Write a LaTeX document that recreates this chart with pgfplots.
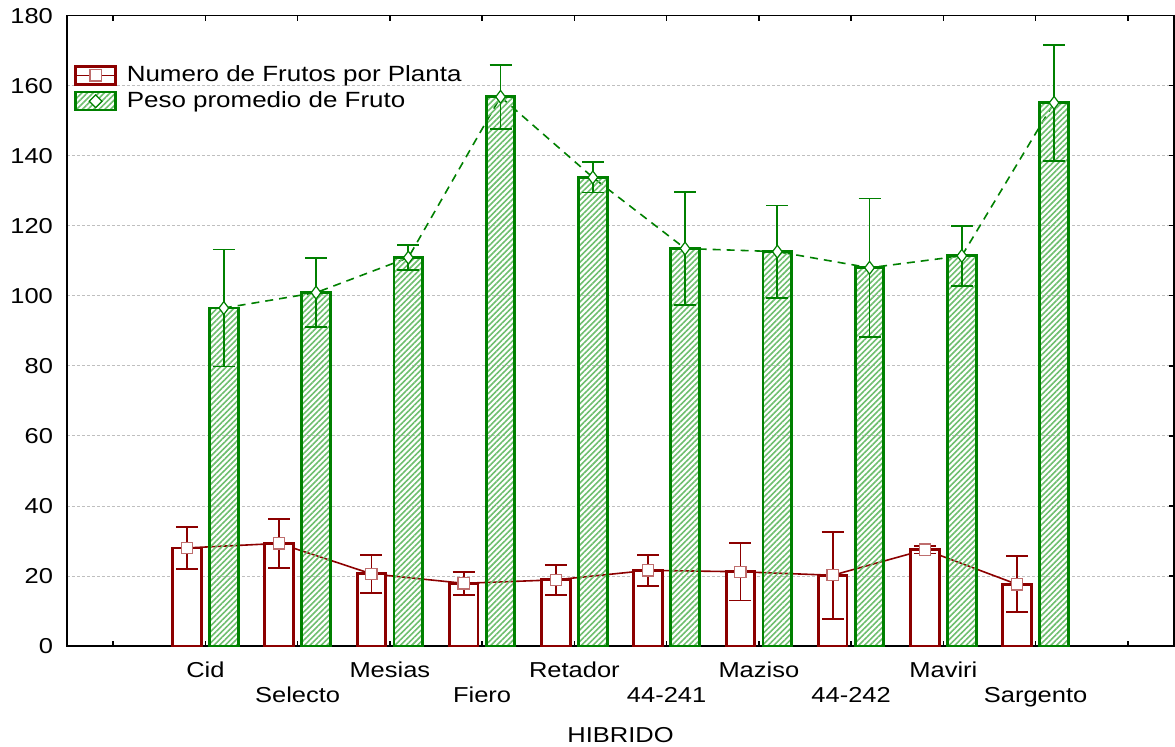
\documentclass[border=0pt]{standalone}
\usepackage{fontspec}
\setmainfont[FakeStretch=1.18]{Liberation Sans}
\usepackage{pgfplots}
\usepackage{pgfplotstable}
\pgfplotsset{compat=1.18}
\usetikzlibrary{patterns.meta}

\definecolor{darkred}{RGB}{140,0,0}
\definecolor{markred}{RGB}{190,110,110}
\definecolor{dkgreen}{RGB}{0,128,0}
\definecolor{hatchgreen}{RGB}{110,190,110}

% x: hibrido index, n: frutos por planta, p: peso promedio
\pgfplotstableread{
x n    ne   p     pe
1 28.0 6.0  96.5  16.7
2 29.3 7.0  100.9 9.8
3 20.6 5.4  110.9 3.5
4 17.9 3.3  156.8 9.1
5 18.9 4.3  133.8 4.3
6 21.6 4.4  113.5 16.1
7 21.2 8.2  112.6 13.2
8 20.2 12.4 108.0 19.8
9 27.5 1.1  111.4 8.6
10 17.6 8.0 155.1 16.6
}\datos

\begin{document}
\begin{tikzpicture}
\begin{axis}[
  name=ax,
  scale only axis,
  width=553.5pt, height=315.2pt,
  xmin=-0.5, xmax=11.5,
  ymin=0, ymax=180,
  xtick={0,...,11},
  xticklabels={,Cid,\raisebox{-12.5pt}{Selecto},Mesias,\raisebox{-12.5pt}{Fiero},Retador,\raisebox{-12.5pt}{44-241},Maziso,\raisebox{-12.5pt}{44-242},Maviri,\raisebox{-12.5pt}{Sargento},},
  ytick={0,20,...,180},
  ytick pos=right, yticklabel pos=left,
  tick align=inside,
  major tick length=2.5pt,
  tick style={black, line width=0.7pt},
  axis line style={black, line width=0.8pt},
  ymajorgrids,
  grid style={gray!50, line width=0.4pt, dash pattern=on 1.5pt off 1pt},
  font=\fontsize{10.8}{12.8}\selectfont,
  /pgf/number format/assume math mode=true,
  yticklabel style={xshift=-3.5pt},
  xticklabel style={text height=7.7pt, text depth=2pt, yshift=-4.5pt},
  xlabel={HIBRIDO},
  xlabel style={yshift=-16pt},
  legend cell align=left,
  legend style={at={(axis description cs:0,1)}, anchor=north west, xshift=0.5pt, yshift=-21pt,
    draw=none, fill=none, font=\fontsize{11}{13}\selectfont, row sep=-0.6pt,
    /tikz/every odd column/.append style={column sep=3pt}},
]
% connecting lines
\addplot[darkred, line width=0.8pt, forget plot] table[x expr=\thisrow{x}-0.2, y=n] {\datos};
\addplot[dkgreen, line width=0.8pt, dash pattern=on 4pt off 3pt, forget plot] table[x expr=\thisrow{x}+0.2, y=p] {\datos};
% bars
\addplot[ybar, bar width=0.31, bar shift=0pt, draw=darkred, fill=white, line width=1.4pt, forget plot]
  table[x expr=\thisrow{x}-0.2, y=n] {\datos};
\addplot[ybar, bar width=0.31, bar shift=0pt, draw=dkgreen, line width=1.4pt,
  pattern={Lines[angle=45, distance=2pt, line width=0.8pt]}, pattern color=hatchgreen, forget plot]
  table[x expr=\thisrow{x}+0.2, y=p] {\datos};
% means with error bars
\addplot[only marks, mark=square*, mark size=2.8pt, mark options={draw=markred, fill=white, line width=0.6pt},
  error bars/.cd, y dir=both, y explicit,
  error bar style={darkred, line width=0.9pt},
  error mark=|,
  error mark options={darkred, mark size=5.5pt, line width=0.9pt},
  /pgfplots/legend image code/.code={
    \draw[darkred, line width=1.2pt, fill=white] (0pt,-4.5pt) rectangle (20pt,4.5pt);
    \draw[darkred, line width=0.8pt] (0pt,0pt) -- (20pt,0pt);
    \draw[markred, fill=white, line width=0.6pt] (7.2pt,-2.8pt) rectangle (12.8pt,2.8pt);
  }]
  table[x expr=\thisrow{x}-0.2, y=n, y error=ne] {\datos};
\addlegendentry{Numero de Frutos por Planta}
\addplot[only marks, mark=diamond*, mark size=3.2pt, mark options={draw=dkgreen, fill=white, line width=0.6pt},
  error bars/.cd, y dir=both, y explicit,
  error bar style={dkgreen, line width=0.9pt},
  error mark=|,
  error mark options={dkgreen, mark size=5.5pt, line width=0.9pt},
  /pgfplots/legend image code/.code={
    \draw[dkgreen, line width=1.2pt, pattern={Lines[angle=45, distance=2pt, line width=0.8pt]}, pattern color=hatchgreen] (0pt,-4.5pt) rectangle (20pt,4.5pt);
    \draw[dkgreen, fill=white, line width=0.6pt] (10pt,-3.2pt) -- (13.2pt,0pt) -- (10pt,3.2pt) -- (6.8pt,0pt) -- cycle;
  }]
  table[x expr=\thisrow{x}+0.2, y=p, y error=pe] {\datos};
\addlegendentry{Peso promedio de Fruto}
\end{axis}
\pgfresetboundingbox
\path (ax.south west) ++(-33.5pt,-50pt) rectangle ++(587.5pt,373pt);
\end{tikzpicture}
\end{document}
